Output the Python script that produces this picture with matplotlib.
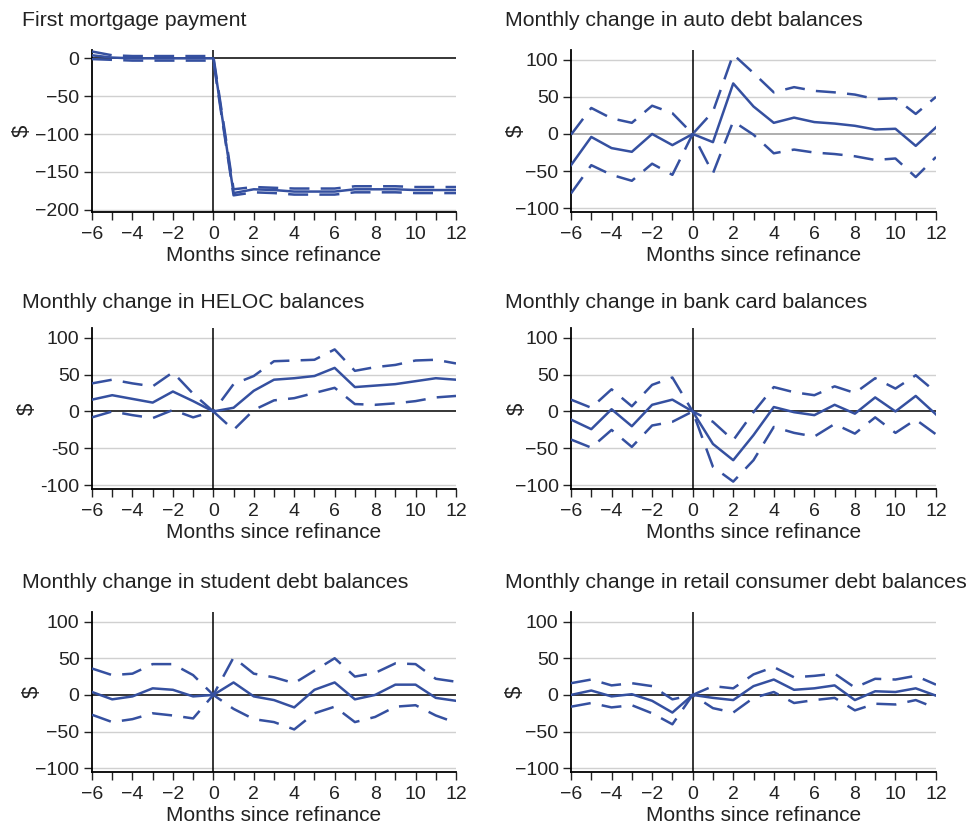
import matplotlib
matplotlib.use("Agg")
import matplotlib.pyplot as plt

plt.rcParams["font.family"] = ["Liberation Sans", "DejaVu Sans"]

months = list(range(-6, 13))

# First mortgage payment
mort_est = [4, 1, 0, 0, 0, 0, 0, -178, -173, -174, -176, -176, -176, -173, -173, -173, -174, -174, -174]
mort_hi = [9, 4, 3, 3, 3, 3, 3, -173, -170, -171, -172, -172, -172, -169, -169, -169, -170, -170, -170]
mort_lo = [-1, -2, -3, -3, -3, -3, -3, -181, -177, -178, -180, -180, -180, -177, -177, -177, -178, -178, -178]

# Auto debt
auto_est = [-42, -4, -19, -24, 0, -15, 0, -11, 68, 37, 15, 22, 16, 14, 11, 6, 7, -16, 9]
auto_hi = [-1, 35, 21, 15, 38, 28, 0, 30, 107, 82, 56, 63, 58, 56, 53, 47, 48, 27, 50]
auto_lo = [-80, -42, -55, -63, -40, -55, 0, -53, 17, -1, -26, -21, -25, -27, -30, -35, -33, -58, -31]

# HELOC
heloc_est = [16, 22, 17, 12, 27, 14, 0, 5, 28, 43, 45, 48, 59, 33, 35, 37, 41, 45, 43]
heloc_hi = [38, 43, 38, 34, 53, 24, 0, 37, 48, 68, 69, 70, 84, 55, 60, 63, 69, 70, 65]
heloc_lo = [-8, 0, -5, -9, 2, -8, 0, -25, 2, 15, 18, 25, 32, 10, 9, 11, 14, 19, 21]

# Bank card
card_est = [-11, -24, 3, -20, 9, 16, 0, -44, -66, -32, 6, -1, -5, 9, -3, 19, 0, 21, -4]
card_hi = [16, 5, 30, 7, 36, 46, 0, -14, -39, -1, 33, 26, 22, 34, 25, 45, 31, 49, 26]
card_lo = [-38, -49, -25, -48, -19, -14, 0, -75, -95, -66, -21, -29, -34, -17, -30, -8, -29, -11, -31]

# Student debt
stud_est = [4, -6, -2, 9, 7, -2, 0, 17, -2, -7, -17, 7, 17, -6, 0, 14, 14, -4, -8]
stud_hi = [36, 27, 29, 42, 42, 27, 0, 51, 29, 24, 16, 33, 50, 25, 30, 43, 42, 22, 18]
stud_lo = [-27, -37, -33, -25, -28, -32, 0, -19, -33, -37, -47, -25, -16, -37, -30, -16, -14, -28, -38]

# Retail consumer debt
retail_est = [0, 6, -2, 1, -8, -24, 0, -4, -7, 12, 21, 7, 9, 13, -7, 5, 4, 9, -1]
retail_hi = [16, 21, 13, 16, 12, -6, 0, 12, 9, 28, 38, 24, 26, 29, 10, 22, 21, 26, 14]
retail_lo = [-16, -11, -17, -14, -25, -40, 0, -18, -24, -4, 4, -11, -7, -4, -21, -12, -13, -7, -18]

titles = [
    "First mortgage payment",
    "Monthly change in auto debt balances",
    "Monthly change in HELOC balances",
    "Monthly change in bank card balances",
    "Monthly change in student debt balances",
    "Monthly change in retail consumer debt balances",
]
series = [
    (mort_est, mort_hi, mort_lo),
    (auto_est, auto_hi, auto_lo),
    (heloc_est, heloc_hi, heloc_lo),
    (card_est, card_hi, card_lo),
    (stud_est, stud_hi, stud_lo),
    (retail_est, retail_hi, retail_lo),
]

W, H = 969, 823
BLUE = "#3550a0"
TXT = "#222222"
cols = [(92, 456), (571, 936)]
rows = [(50, 212), (328, 489), (612, 772)]
title_y = [20, 302, 582]
# anchor of the rotated "$" label, in pixels
ylab_x = [33, 527, 38, 528, 43, 526]

fig = plt.figure(figsize=(W / 100, H / 100), dpi=100)

for i, (title, (est, hi, lo)) in enumerate(zip(titles, series)):
    r, c = divmod(i, 2)
    x0, x1 = cols[c]
    y0, y1 = rows[r]
    ax = fig.add_axes([x0 / W, 1 - y1 / H, (x1 - x0) / W, (y1 - y0) / H])

    if i == 0:
        ax.set_ylim(-203, 11)
        yt = [0, -50, -100, -150, -200]
    else:
        ax.set_ylim(-105, 113)
        yt = [100, 50, 0, -50, -100]
    ax.set_xlim(-6, 12)
    ax.set_yticks(yt)
    if i == 2:
        ax.set_yticklabels([str(v) for v in yt])
    else:
        ax.set_yticklabels([str(v).replace("-", "\u2212") for v in yt])
    ax.set_xticks(months, minor=True)
    ax.set_xticks(range(-6, 13, 2))
    ax.set_xticklabels([str(v).replace("-", "\u2212") for v in range(-6, 13, 2)])

    for v in yt:
        if v != 0:
            ax.axhline(v, color="#d0d0d0", lw=1.0, zorder=0)
    zc = "#999999" if i == 1 else "black"
    ax.axhline(0, color=zc, lw=1.1, zorder=1)
    ax.axvline(0, color="black", lw=1.1, zorder=1)

    ax.plot(months, est, color=BLUE, lw=1.8, zorder=3)
    ax.plot(months, hi, color=BLUE, lw=1.8, dashes=(8, 4.5), zorder=3)
    ax.plot(months, lo, color=BLUE, lw=1.8, dashes=(8, 4.5), zorder=3)

    for s in ["top", "right"]:
        ax.spines[s].set_visible(False)
    ax.spines["left"].set_linewidth(1.3)
    ax.spines["bottom"].set_linewidth(1.3)
    ax.tick_params(axis="both", which="both", direction="out", length=6, width=1.0,
                   labelsize=14, colors=TXT)
    ax.tick_params(axis="x", which="major", pad=4)
    ax.tick_params(axis="y", which="major", pad=3)
    ax.set_xlabel("Months since refinance", fontsize=15, color=TXT, labelpad=2)
    ax.set_ylabel("$", fontsize=16, color=TXT)
    ax.yaxis.set_label_coords((ylab_x[i] - x0) / (x1 - x0), 0.5)
    tx = 22 if c == 0 else 505
    fig.text(tx / W, 1 - title_y[r] / H, title, fontsize=15.3, color=TXT,
             ha="left", va="center")

fig.savefig("out.png", dpi=100)
